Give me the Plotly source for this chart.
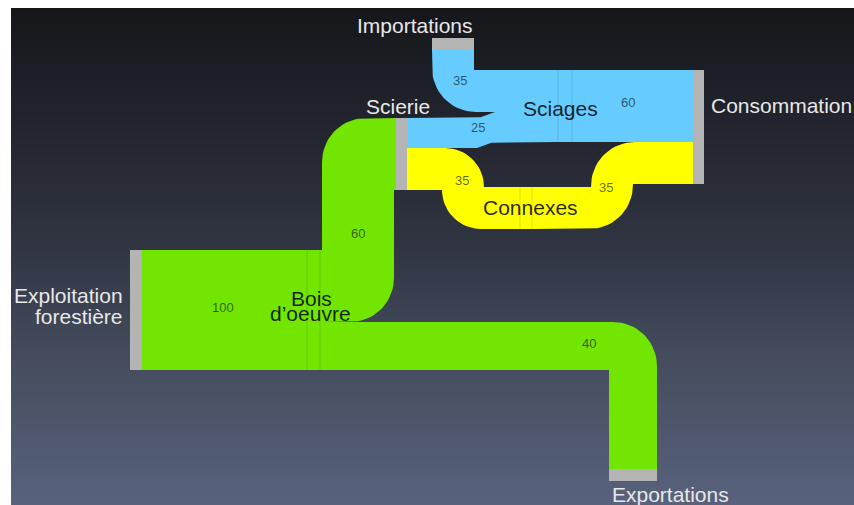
import numpy as np
import plotly.graph_objects as go

# nodes and flows (units of wood volume)
node_names = ["Exploitation forestière", "Bois d’oeuvre", "Scierie", "Importations",
              "Sciages", "Connexes", "Consommation", "Exportations"]
link_source = [0, 1, 1, 3, 2, 2, 4, 5]
link_target = [1, 2, 7, 4, 4, 5, 6, 6]
link_value = [100, 60, 40, 35, 25, 35, 60, 35]
link_product = ["bois", "bois", "bois", "sciages", "sciages", "connexes", "sciages", "connexes"]

product_color = {"bois": "#72e600", "sciages": "#66ccff", "connexes": "#ffff00"}
NODE_GREY = "#b4b4b4"

K = 1.2   # pixels per unit of flow
R = 44    # outer corner radius

# node placement in pixel space (left/top corner), bar orientation and thickness
node_x = [130, 307, 396, 432, 558, 520, 693, 609]
node_y = [250, 250, 118, 38, 70, 187, 70, 469]
node_orient = ["v", "v", "v", "h", "v", "v", "v", "h"]
node_thick = [12, 13, 11, 12, 14, 12, 11, 12]
node_shown = [True, False, True, True, False, False, True, True]
node_fill = [None, "bois", None, None, "sciages", "connexes", None, None]
# x of the vertical leg for links that change height
link_bend = [None, 358, None, None, 486, 463, None, 612]

# label placement
outer_labels = [
    ("Importations", 475, 25, "right"),
    ("Scierie", 398, 106, "center"),
    ("Consommation", 709, 105, "left"),
    ("Exploitation", 125, 295, "right"),
    ("forestière", 125, 316, "right"),
    ("Exportations", 610, 494, "left"),
]
inner_labels = [
    ("Sciages", 560, 108),
    ("Connexes", 530, 207),
    ("Bois", 311, 298),
    ("d’oeuvre", 310, 313),
]
link_label_x = [223, 358, 589, 460, 478, 462, 628, 606]
link_label_y = [307, 233, 343, 80, 127, 180, 102, 187]


def band(pts, w):
    pts = np.array(pts, float)
    d = np.diff(pts, axis=0)
    d = d / np.linalg.norm(d, axis=1)[:, None]
    nrm = np.stack([-d[:, 1], d[:, 0]], axis=1)
    sides = []
    for s in (1, -1):
        corners = [pts[0] + s * w / 2 * nrm[0]]
        outer = [False]
        for j in range(1, len(pts) - 1):
            q = pts[j] + s * w / 2 * (nrm[j - 1] + nrm[j])
            corners.append(q)
            outer.append(np.dot(q - pts[j], d[j]) < 0)
        corners.append(pts[-1] + s * w / 2 * nrm[-1])
        outer.append(False)
        edge = [corners[0]]
        for j in range(1, len(corners) - 1):
            q = corners[j]
            if outer[j]:
                r = min(R, np.linalg.norm(q - corners[j - 1]), np.linalg.norm(corners[j + 1] - q))
                d1, d2 = d[j - 1], d[j]
                c = q - d1 * r + d2 * r
                for t in np.linspace(0, np.pi / 2, 18):
                    edge.append(c - d2 * r * np.cos(t) + d1 * r * np.sin(t))
            else:
                edge.append(q)
        edge.append(corners[-1])
        sides.append(edge)
    poly = np.array(sides[0] + sides[1][::-1])
    return poly[:, 0], poly[:, 1]


def s_band(sx, sy, tx, ty, w, b):
    u = np.linspace(0, 1, 20)
    xs = np.concatenate([[sx], b - 10 + 20 * u, [tx]])
    ease = np.concatenate([[0], 0.5 - 0.5 * np.cos(np.pi * u), [1]])
    yc = sy + (ty - sy) * ease
    x = np.concatenate([xs, xs[::-1]])
    y = np.concatenate([yc - w / 2, (yc + w / 2)[::-1]])
    return x, y


n = len(node_names)
node_in = [0] * n
node_out = [0] * n
for s, t, v in zip(link_source, link_target, link_value):
    node_out[s] += v
    node_in[t] += v
node_size = [max(a, b) * K for a, b in zip(node_in, node_out)]

fig = go.Figure()

# background gradient
ys = np.linspace(8, 505, 80)
fig.add_trace(go.Heatmap(
    x=[11, 854], y=ys, z=[[v, v] for v in ys],
    colorscale=[[0, "#15171b"], [0.29, "#252832"], [0.5, "#323745"],
                [0.7, "#444c5d"], [1, "#58627c"]],
    showscale=False, zsmooth="best", hoverinfo="skip"))

used_out = [0.0] * n
used_in = [0.0] * n
for i, (s, t, v) in enumerate(zip(link_source, link_target, link_value)):
    w = v * K
    if node_orient[s] == "h":
        sx = node_x[s] + used_out[s] + w / 2
        sy = node_y[s] + node_thick[s]
    else:
        sx = node_x[s] + node_thick[s]
        sy = node_y[s] + used_out[s] + w / 2
    if node_orient[t] == "h":
        tx = node_x[t] + used_in[t] + w / 2
        ty = node_y[t]
    else:
        tx = node_x[t]
        ty = node_y[t] + used_in[t] + w / 2
    used_out[s] += w
    used_in[t] += w

    if node_orient[s] == "h":
        x, y = band([(sx, sy), (sx, ty), (tx, ty)], w)
    elif node_orient[t] == "h":
        x, y = band([(sx, sy), (tx, sy), (tx, ty)], w)
    elif abs(sy - ty) < 1e-6:
        x, y = band([(sx, sy), (tx, ty)], w)
    elif abs(sy - ty) < w / 2:
        x, y = s_band(sx, sy, tx, ty, w, link_bend[i])
    else:
        b = link_bend[i]
        x, y = band([(sx, sy), (b, sy), (b, ty), (tx, ty)], w)
    fig.add_trace(go.Scatter(x=x, y=y, mode="lines", fill="toself",
                             fillcolor=product_color[link_product[i]],
                             line=dict(width=0), hoverinfo="skip"))

# nodes
for j in range(n):
    x0, y0 = node_x[j], node_y[j]
    if node_orient[j] == "v":
        x1, y1 = x0 + node_thick[j], y0 + node_size[j]
    else:
        x1, y1 = x0 + node_size[j], y0 + node_thick[j]
    if node_shown[j]:
        col = NODE_GREY
    else:
        col = product_color[node_fill[j]]
    fig.add_trace(go.Scatter(x=[x0, x1, x1, x0, x0], y=[y0, y0, y1, y1, y0],
                             mode="lines", fill="toself", fillcolor=col,
                             line=dict(width=0), hoverinfo="skip"))
    if not node_shown[j]:
        for xe in (x0, x1):
            fig.add_trace(go.Scatter(x=[xe, xe], y=[y0, y1], mode="lines",
                                     line=dict(width=1, color="rgba(0,0,0,0.12)"),
                                     hoverinfo="skip"))

FONT = "Liberation Sans, Arial, sans-serif"
for txt, x, y, anchor in outer_labels:
    fig.add_annotation(x=x, y=y, text=txt, showarrow=False, xanchor=anchor, yanchor="middle",
                       font=dict(family=FONT, size=21, color="#e8e8e8"))
for txt, x, y in inner_labels:
    fig.add_annotation(x=x, y=y, text=txt, showarrow=False, xanchor="center", yanchor="middle",
                       font=dict(family=FONT, size=21, color="rgba(0,0,0,0.85)"))
for i, v in enumerate(link_value):
    fig.add_annotation(x=link_label_x[i], y=link_label_y[i], text=str(v), showarrow=False,
                       font=dict(family=FONT, size=13, color="rgba(0,0,0,0.6)"))

fig.update_layout(
    width=854, height=505,
    margin=dict(l=11, r=0, t=8, b=0),
    paper_bgcolor="white", plot_bgcolor="#15171b",
    showlegend=False,
    xaxis=dict(range=[11, 854], visible=False, fixedrange=True),
    yaxis=dict(range=[505, 8], visible=False, fixedrange=True),
)

# drop the page margin so the figure fills the window exactly
fig.write_html("out.html", config={"displayModeBar": False},
               post_script="document.body.style.margin='0';document.body.style.overflow='hidden';")
